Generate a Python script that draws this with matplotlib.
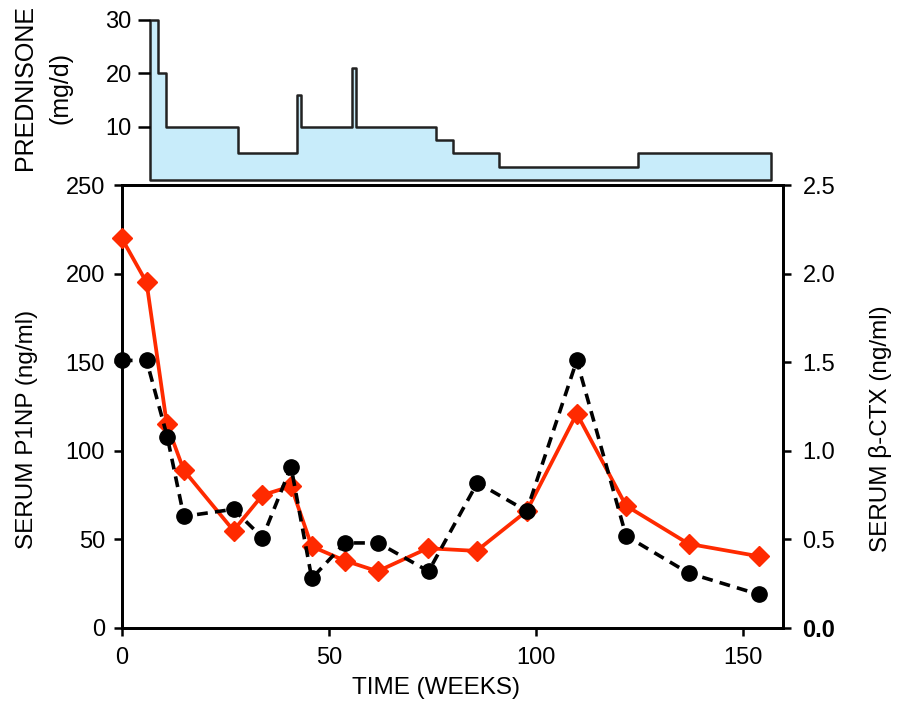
import matplotlib
matplotlib.use('Agg')
import matplotlib.pyplot as plt
import numpy as np

plt.rcParams['font.family'] = ['Liberation Sans', 'DejaVu Sans']

# Данные: преднизолон (ступенчатая доза, мг/сут)
pred_weeks = [6.8, 8.8, 10.8, 28.2, 42.3, 43.3, 55.6, 56.6, 76.0, 80.1, 91.2, 124.8, 156.8]
pred_dose = [30, 20, 10, 5, 16, 10, 21, 10, 7.5, 5, 2.5, 5]

# P1NP (нг/мл)
p1np_weeks = [0, 6, 10.9, 15, 27, 34, 40.9, 45.9, 53.9, 61.8, 73.9, 85.7, 97.8, 109.9, 121.8, 136.9, 153.8]
p1np_vals = [220, 195, 115, 89, 55, 75, 80, 46, 38, 32, 45, 43.5, 66, 121, 69, 47.5, 40.5]

# beta-CTX (нг/мл)
ctx_weeks = [0, 6, 11, 15, 27, 34, 40.9, 45.9, 53.9, 62, 74.1, 85.9, 97.8, 109.9, 121.8, 136.9, 153.8]
ctx_vals = [1.51, 1.51, 1.08, 0.63, 0.67, 0.51, 0.91, 0.28, 0.48, 0.48, 0.32, 0.82, 0.66, 1.51, 0.52, 0.31, 0.19]

left_ticks = [0, 50, 100, 150, 200, 250]
right_ticks = [0.0, 0.5, 1.0, 1.5, 2.0, 2.5]
x_ticks = [0, 50, 100, 150]

XMAX = 159.7
W, H = 899, 703

fig = plt.figure(figsize=(W / 100, H / 100), dpi=100)

# основная область (в пикселях: 121.7..783 по x, 185..628 по y)
ml, mr, mt, mb = 121.7, 783, 185, 628
ax = fig.add_axes([ml / W, (H - mb) / H, (mr - ml) / W, (mb - mt) / H])
ax2 = ax.twinx()

ax.set_xlim(0, XMAX)
ax.set_ylim(0, 250)
ax2.set_ylim(0, 2.5)

ax2.plot(p1np_weeks, np.array(p1np_vals) / 100, color='#ff2a00', lw=2.7, marker='D', ms=10,
         clip_on=False, zorder=3)
ax2.plot(ctx_weeks, ctx_vals, color='black', lw=2.6, ls=(0, (3, 2)), marker='o', ms=11,
         clip_on=False, zorder=4)

for a in (ax, ax2):
    for s in a.spines.values():
        s.set_linewidth(2)

ax.set_xticks(x_ticks)
ax.set_yticks(left_ticks)
ax.tick_params(axis='both', direction='out', length=6, width=1.8, labelsize=17, pad=6)
ax.tick_params(axis='x', pad=8)
ax2.set_yticks(right_ticks)
ax2.set_yticklabels([f'{v:.1f}' for v in right_ticks])
ax2.tick_params(axis='y', direction='out', length=6, width=1.8, labelsize=17, pad=8)
ax2.get_yticklabels()[0].set_fontweight('bold')

ax.text(0.475, -0.135, 'TIME (WEEKS)', transform=ax.transAxes, ha='center', va='center', fontsize=17.5)
ax.text((27 - ml) / (mr - ml), (mb - 429) / (mb - mt), 'SERUM P1NP (ng/ml)', transform=ax.transAxes,
        rotation=90, ha='center', va='center', fontsize=17.5)
ax.text((881 - ml) / (mr - ml), (mb - 429) / (mb - mt), 'SERUM β-CTX (ng/ml)', transform=ax.transAxes,
        rotation=90, ha='center', va='center', fontsize=17.5)

# верхняя панель: преднизолон
top_left = ml + pred_weeks[0] / XMAX * (mr - ml)
tb, tt = 180, 5
axp = fig.add_axes([top_left / W, (H - tb) / H, (mr - top_left) / W, (tb - tt) / H])
axp.set_xlim(pred_weeks[0], XMAX)
axp.set_ylim(0, (tb - tt) / 5.34)
axp.fill_between(pred_weeks, pred_dose + [pred_dose[-1]], step='post', facecolor='#c8ecfa',
                 edgecolor='#222222', linewidth=1.8, clip_on=False)
for s in axp.spines.values():
    s.set_visible(False)
axp.set_xticks([])
axp.set_yticks([10, 20, 30])
axp.tick_params(axis='y', direction='out', length=9, width=1.8, labelsize=17, pad=4)
axp.patch.set_alpha(0)

fig.text(25 / W, (H - 88) / H, 'PREDNISONE', rotation=90, ha='center', va='center', fontsize=18)
fig.text(61 / W, (H - 88) / H, '(mg/d)', rotation=90, ha='center', va='center', fontsize=18)

fig.savefig('out.png', dpi=100)
